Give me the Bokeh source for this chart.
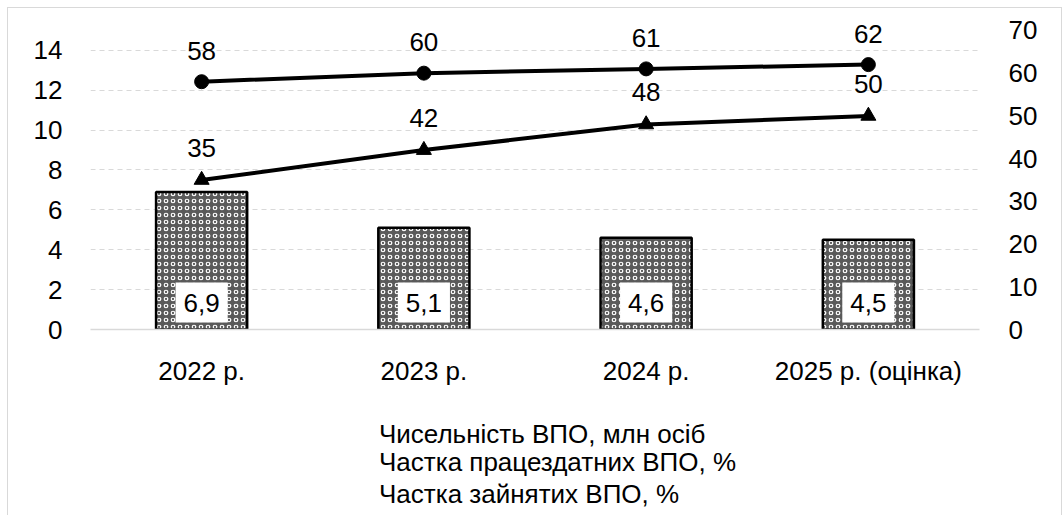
from bokeh.plotting import figure
from bokeh.layouts import column
from bokeh.models import (Range1d, LinearAxis, FactorRange, ColumnDataSource, LabelSet,
                          Legend, LegendItem, FixedTicker)
from bokeh.embed import file_html
from bokeh.resources import INLINE
from bokeh.core.properties import value

categories = ["2022 р.", "2023 р.", "2024 р.", "2025 р. (оцінка)"]
vpo_count = [6.9, 5.1, 4.6, 4.5]
count_labels = ["6,9", "5,1", "4,6", "4,5"]
share_able = [58, 60, 61, 62]
share_employed = [35, 42, 48, 50]
left_ticks = [0, 2, 4, 6, 8, 10, 12, 14]
right_ticks = [0, 10, 20, 30, 40, 50, 60, 70]

FONT = "Liberation Sans"
FS = "26px"

src = ColumnDataSource(dict(
    cat=categories, count=vpo_count, clabel=count_labels, zero=[0] * len(categories),
    able=share_able, able_lbl=[str(v) for v in share_able],
    emp=share_employed, emp_lbl=[str(v) for v in share_employed],
))

# frame extends to the top border so that the value labels are not clipped
LEFT_TOP = 16.1
RIGHT_TOP = LEFT_TOP * 70 / 15

BAR_STYLE = dict(fill_color="#5a5a5a", hatch_pattern="ring", hatch_color="white",
                 hatch_scale=7, hatch_weight=1.2, line_color="black", line_width=2.5)

p = figure(x_range=FactorRange(*categories), y_range=Range1d(0, LEFT_TOP),
           width=1053, height=380,
           min_border_left=82, min_border_right=82, min_border_top=0, min_border_bottom=0,
           output_backend="svg", toolbar_location=None)
p.outline_line_color = None
p.background_fill_color = "white"
p.border_fill_color = "white"

p.extra_y_ranges = {"right": Range1d(0, RIGHT_TOP)}

# axes
p.yaxis.ticker = FixedTicker(ticks=left_ticks)
p.yaxis.axis_line_color = None
p.yaxis.major_tick_line_color = None
p.yaxis.minor_tick_line_color = None
p.yaxis.major_label_standoff = 22
p.yaxis.major_label_text_font = FONT
p.yaxis.major_label_text_font_size = FS
p.yaxis.major_label_text_color = "black"

ax_r = LinearAxis(y_range_name="right", ticker=FixedTicker(ticks=right_ticks))
ax_r.axis_line_color = None
ax_r.major_tick_line_color = None
ax_r.minor_tick_line_color = None
ax_r.major_label_standoff = 23
ax_r.major_label_text_font = FONT
ax_r.major_label_text_font_size = FS
ax_r.major_label_text_color = "black"
p.add_layout(ax_r, "right")

p.xaxis.axis_line_color = "#d9d9d9"
p.xaxis.axis_line_width = 1.5
p.xaxis.major_tick_line_color = None
p.xaxis.minor_tick_line_color = None
p.xaxis.major_label_standoff = 20
p.xaxis.major_label_text_font = FONT
p.xaxis.major_label_text_font_size = FS
p.xaxis.major_label_text_color = "black"

p.xgrid.grid_line_color = None
p.ygrid.ticker = FixedTicker(ticks=left_ticks[1:])
p.ygrid.grid_line_color = "#d9d9d9"
p.ygrid.grid_line_dash = "5 4"
p.ygrid.grid_line_width = 1.2

p.vbar(x="cat", top="count", width=0.41, source=src, **BAR_STYLE)
p.line(x="cat", y="able", source=src, y_range_name="right", line_color="black", line_width=4)
p.scatter(x="cat", y="able", source=src, y_range_name="right", marker="circle",
          size=14, fill_color="black", line_color="black")
p.line(x="cat", y="emp", source=src, y_range_name="right", line_color="black", line_width=4)
p.scatter(x="cat", y="emp", source=src, y_range_name="right", marker="triangle",
          size=15, fill_color="black", line_color="black")

p.text(x="cat", y="zero", text="clabel", source=src, y_offset=-27,
       text_align="center", text_baseline="middle",
       text_font=value(FONT), text_font_size=FS, text_color="black",
       background_fill_color="white", padding=dict(left=8, right=8, top=11, bottom=11))
p.add_layout(LabelSet(x="cat", y="able", text="able_lbl", source=src, y_range_name="right",
                      y_offset=31, text_align="center", text_baseline="middle",
                      text_font=value(FONT), text_font_size=FS, text_color="black"))
p.add_layout(LabelSet(x="cat", y="emp", text="emp_lbl", source=src, y_range_name="right",
                      y_offset=32, text_align="center", text_baseline="middle",
                      text_font=value(FONT), text_font_size=FS, text_color="black"))

# ---- legend strip (its own figure so that the legend is not clipped) ----
empty = ColumnDataSource({k: [] for k in src.data})
lf = figure(x_range=FactorRange(*categories), y_range=Range1d(0, 1),
            width=1053, height=127, min_border=0,
            x_axis_location=None, y_axis_location=None,
            output_backend="svg", toolbar_location=None)
lf.outline_line_color = None
lf.grid.grid_line_color = None
lf.background_fill_color = "white"
lf.border_fill_color = "white"

lb = lf.vbar(x="cat", top="count", width=0.41, source=empty, **BAR_STYLE)
ll1 = lf.line(x="cat", y="able", source=empty, line_color="black", line_width=4)
lm1 = lf.scatter(x="cat", y="able", source=empty, marker="circle", fill_color="black", line_color="black")
ll2 = lf.line(x="cat", y="emp", source=empty, line_color="black", line_width=4)
lm2 = lf.scatter(x="cat", y="emp", source=empty, marker="triangle", fill_color="black", line_color="black")


def style_legend(lg, gh, spacing):
    lg.label_text_font = FONT
    lg.label_text_font_size = FS
    lg.label_text_color = "black"
    lg.glyph_width = 48
    lg.glyph_height = gh
    lg.label_standoff = 4
    lg.spacing = spacing
    lg.padding = 0
    lg.margin = 0
    lg.border_line_color = None
    lg.background_fill_alpha = 0


leg_a = Legend(items=[LegendItem(label="Чисельність ВПО, млн осіб", renderers=[lb])],
               location=(237, 65))
style_legend(leg_a, 16, 0)
leg_b = Legend(items=[
    LegendItem(label="Частка працездатних ВПО, %", renderers=[ll1, lm1]),
    LegendItem(label="Частка зайнятих ВПО, %", renderers=[ll2, lm2]),
], location=(237, 5))
style_legend(leg_b, 32, -3)
lf.add_layout(leg_a, "center")
lf.add_layout(leg_b, "center")

col = column(p, lf, spacing=0)
col.styles = {"border": "1px solid #d9d9d9", "margin-left": "7px", "margin-top": "7px"}

open("out.html", "w").write(file_html(col, INLINE))
